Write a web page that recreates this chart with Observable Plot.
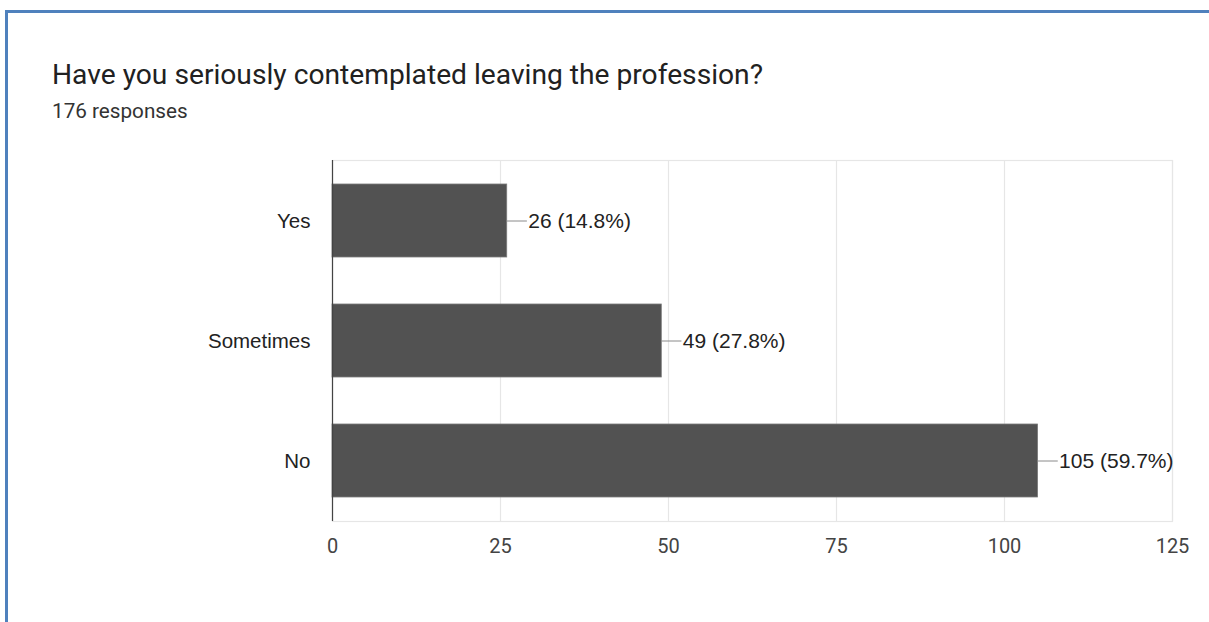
<!DOCTYPE html>
<html>
<head>
<meta charset="utf-8">
<script src="https://cdn.jsdelivr.net/npm/d3@7"></script>
<script src="https://cdn.jsdelivr.net/npm/@observablehq/plot@0.6"></script>
<style>
  html, body { margin: 0; padding: 0; background: #fff; width: 1209px; height: 622px; overflow: hidden; }
  #frame { position: absolute; left: 5px; top: 10px; width: 1220px; height: 640px;
           border-left: 3px solid #4f81bd; border-top: 3px solid #4f81bd; box-sizing: border-box; }
  #title { position: absolute; left: 52px; top: 58px; font: 28.2px Roboto, sans-serif; color: #212121; white-space: nowrap; }
  #subtitle { position: absolute; left: 52px; top: 99px; font: 20.7px Roboto, sans-serif; color: #333; white-space: nowrap; }
  #chart { position: absolute; left: 0; top: 140px; }
</style>
</head>
<body>
<div id="frame"></div>
<div id="title">Have you seriously contemplated leaving the profession?</div>
<div id="subtitle">176 responses</div>
<div id="chart"></div>
<script>
// Survey answers and their response counts
const answers = ["Yes", "Sometimes", "No"];
const counts = [26, 49, 105];
const totalResponses = 176;
const xTicks = [0, 25, 50, 75, 100, 125];

const rows = answers.map((a, i) => ({
  answer: a,
  count: counts[i],
  label: `${counts[i]} (${(counts[i] / totalResponses * 100).toFixed(1)}%)`
}));

const chart = Plot.plot({
  width: 1209,
  height: 440,
  marginTop: 20,
  marginBottom: 59,
  marginLeft: 332,
  marginRight: 37,
  style: { background: "transparent", overflow: "visible" },
  x: { domain: [0, 125], ticks: xTicks, label: null },
  y: { domain: answers, paddingInner: 0.39, paddingOuter: 0.195, label: null },
  marks: [
    Plot.gridX(xTicks, { stroke: "#e6e6e6", strokeOpacity: 1, strokeWidth: 1.2 }),
    Plot.frame({ stroke: "#e6e6e6", strokeWidth: 1.2 }),
    Plot.barX(rows, { y: "answer", x: "count", fill: "#525252", stroke: "#7a7a7a", strokeWidth: 0.8 }),
    // short leader line from the bar end to its value label
    Plot.ruleY(rows, { y: "answer", x1: "count", x2: d => d.count + 3, stroke: "#8a8a8a", strokeWidth: 1 }),
    Plot.text(rows, {
      y: "answer", x: "count", text: "label", dx: 21, textAnchor: "start",
      fontSize: 21, fill: "#222", fontFamily: "Liberation Sans, Arial, sans-serif"
    }),
    Plot.ruleX([0], { stroke: "#444", strokeWidth: 1.2 }),
    Plot.axisX({ ticks: xTicks, tickSize: 0, tickPadding: 17, fontSize: 20, fill: "#444", fontFamily: "Roboto, sans-serif", label: null }),
    Plot.axisY({ tickSize: 0, tickPadding: 22, fontSize: 20.5, fill: "#222", fontFamily: "Liberation Sans, Arial, sans-serif", label: null })
  ]
});
document.getElementById("chart").appendChild(chart);
</script>
</body>
</html>
